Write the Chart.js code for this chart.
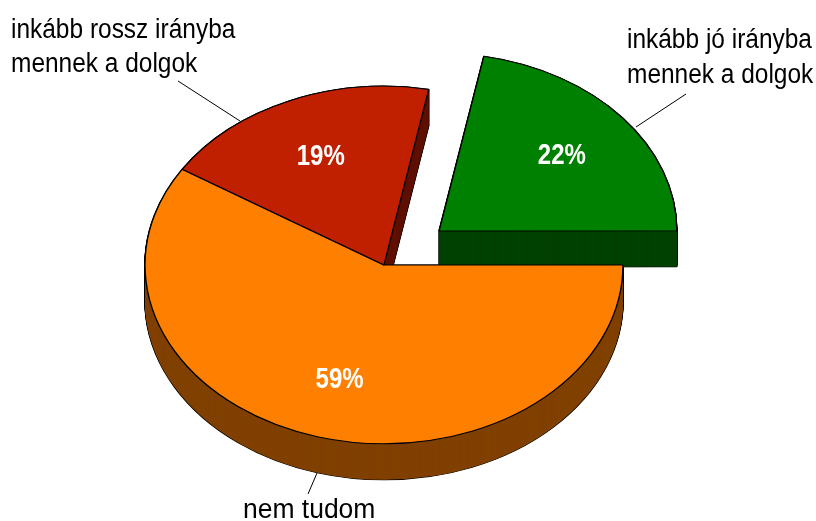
<!DOCTYPE html>
<html lang="hu">

<head>
  <meta charset="UTF-8" />
  <title>Kördiagram</title>
  <script src="https://cdn.jsdelivr.net/npm/chart.js"></script>
  <style>
    html, body { margin: 0; padding: 0; background: #fff; }
    canvas { display: block; }
  </style>
</head>

<body>
  <canvas id="kor" width="816" height="521"></canvas>

  <script>
    // adatok
    var categories = [
      ["inkább jó irányba", "mennek a dolgok"],
      ["nem tudom"],
      ["inkább rossz irányba", "mennek a dolgok"]
    ];
    var values = [22, 59, 19];
    var topColors = ["#008000", "#ff8000", "#c02000"];
    var sideColors = ["#004000", "#804000", "#601000"];

    // kinezet
    var squash = 0.748;
    var depth = 36;
    var labelPlaces = [
      { x: 627, y: [48, 83], stretch: 0.906, line: [686, 94, 636, 127] },
      { x: 243, y: [518], stretch: 0.98, line: [308, 494, 317, 473] },
      { x: 11, y: [38, 72], stretch: 0.906, line: [178, 81, 240, 121] }
    ];

    function condensedText(ctx, text, x, y, stretch) {
      ctx.save();
      ctx.translate(x, y);
      ctx.scale(stretch, 1);
      ctx.fillText(text, 0, 0);
      ctx.restore();
    }

    function squashAround(ctx, cy) {
      ctx.translate(0, cy);
      ctx.scale(1, squash);
      ctx.translate(0, -cy);
    }

    function drawLayers(ctx, arc, opts) {
      var orig = arc.options;
      arc.options = Object.assign({}, orig, opts);
      for (var d = depth; d >= 0; d--) {
        ctx.save();
        ctx.translate(0, d);
        squashAround(ctx, arc.y);
        arc.draw(ctx);
        ctx.restore();
      }
      arc.options = orig;
    }

    var pie3d = {
      id: "pie3d",
      beforeDatasetsDraw: function (chart) {
        var ctx = chart.ctx;
        var arcs = chart.getDatasetMeta(0).data;

        // a kihuzott szelet sugara az offset miatt nagyobb lenne
        arcs[0].outerRadius = arcs[1].outerRadius - 2.5;

        // oldalfalak: retegenkent ugyanaz a szelet, lefele eltolva
        [2, 0, 1].forEach(function (i) {
          drawLayers(ctx, arcs[i], { backgroundColor: sideColors[i], borderWidth: 0 });
        });
        // fekete korvonal a falak ala
        ctx.globalCompositeOperation = "destination-over";
        arcs.forEach(function (arc) {
          drawLayers(ctx, arc, { backgroundColor: "#000", borderColor: "#000", borderWidth: 1.5 });
        });
        ctx.globalCompositeOperation = "source-over";

        ctx.save();
        squashAround(ctx, arcs[0].y);
      },
      afterDatasetsDraw: function (chart) {
        var ctx = chart.ctx;
        var arcs = chart.getDatasetMeta(0).data;
        ctx.restore();

        arcs.forEach(function (arc, i) {
          var mid = (arc.startAngle + arc.endAngle) / 2;
          var push = arc.options.offset / 4;
          var r = arcs[1].outerRadius * 2 / 3;
          var px = arc.x + Math.cos(mid) * (r + push);
          var py = arc.y + Math.sin(mid) * (r + push) * squash;

          // szazalek
          ctx.fillStyle = "#fff";
          ctx.font = "bold 30px 'Liberation Sans'";
          ctx.textAlign = "left";
          ctx.textBaseline = "alphabetic";
          var txt = values[i] + "%";
          var stretch = 48 / ctx.measureText(txt).width;
          condensedText(ctx, txt, px - 24, py + 9, stretch);

          // felirat es vezetovonal
          var place = labelPlaces[i];
          ctx.fillStyle = "#000";
          ctx.font = "27px 'Liberation Sans'";
          categories[i].forEach(function (line, k) {
            condensedText(ctx, line, place.x, place.y[k], place.stretch);
          });
          ctx.strokeStyle = "#000";
          ctx.lineWidth = 1;
          ctx.beginPath();
          ctx.moveTo(place.line[0], place.line[1]);
          ctx.lineTo(place.line[2], place.line[3]);
          ctx.stroke();
        });
      }
    };

    new Chart(document.getElementById("kor").getContext("2d"), {
      type: "pie",
      data: {
        labels: categories,
        datasets: [{
          data: values,
          backgroundColor: topColors,
          borderColor: "#000",
          borderWidth: 1.4,
          offset: [286, 0, 0],
          radius: 239,
          clip: false
        }]
      },
      options: {
        responsive: false,
        animation: false,
        rotation: 10.8,
        layout: { padding: { top: 9, right: 48 } },
        plugins: { legend: { display: false }, tooltip: { enabled: false } }
      },
      plugins: [pie3d]
    });
  </script>
</body>

</html>
